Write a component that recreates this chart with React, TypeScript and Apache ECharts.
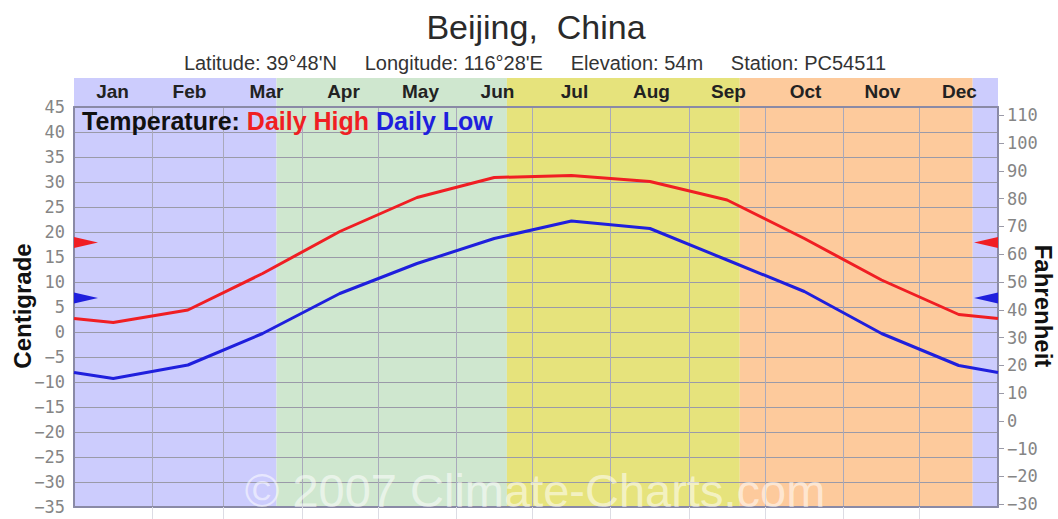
import React, { useEffect, useRef } from "react";
import * as echarts from "echarts";

// ---- data ----
const MONTHS = ["Jan", "Feb", "Mar", "Apr", "May", "Jun", "Jul", "Aug", "Sep", "Oct", "Nov", "Dec"];
// day-of-year positions: year start, mid-months, year end
const DAY_POS = [0, 15.5, 45, 74.5, 105, 135.5, 166, 196.5, 227.5, 258, 288.5, 319, 349.5, 365];
const DAILY_HIGH = [2.7, 1.9, 4.4, 11.7, 20.1, 26.9, 30.9, 31.3, 30.1, 26.4, 18.7, 10.4, 3.5, 2.7];
const DAILY_LOW = [-8.1, -9.3, -6.6, -0.3, 7.7, 13.7, 18.7, 22.2, 20.7, 14.4, 8.1, -0.3, -6.7, -8.1];
const MEAN_HIGH = 17.9;
const MEAN_LOW = 6.8;
const MONTH_BOUNDS = [31, 59, 90, 120, 151, 181, 212, 243, 273, 304, 334];
const SEASONS = [
  { from: 0, to: 80, color: "#ccccfd" },
  { from: 80, to: 171, color: "#cfe7cf" },
  { from: 171, to: 263, color: "#e6e37c" },
  { from: 263, to: 355, color: "#fdca9c" },
  { from: 355, to: 365, color: "#ccccfd" },
];
const F_TICKS = [-30, -20, -10, 0, 10, 20, 30, 40, 50, 60, 70, 80, 90, 100, 110];
const C_MIN = -35;
const C_MAX = 45;

const toF = (c: number) => c * 1.8 + 32;
const minus = (v: number | string) => String(v).replace("-", "\u2212");

export default function App() {
  const ref = useRef<HTMLDivElement>(null);
  useEffect(() => {
    if (!ref.current) return;
    const chart = echarts.init(ref.current, null, { renderer: "svg" });
    const frame = { onZero: false, lineStyle: { color: "#8a8aa6", width: 2 } };
    const bandArea = SEASONS.map((s) => [
      { xAxis: s.from, itemStyle: { color: s.color } },
      { xAxis: s.to },
    ]);
    const tri = (value: number, color: string) => [
      {
        coord: [0, value],
        symbol: "triangle",
        symbolRotate: -90,
        symbolSize: [11, 24],
        symbolOffset: [12, 0],
        itemStyle: { color },
      },
      {
        coord: [365, value],
        symbol: "triangle",
        symbolRotate: 90,
        symbolSize: [11, 24],
        symbolOffset: [-12, 0],
        itemStyle: { color },
      },
    ];
    const axisFont = {
      fontFamily: "DejaVu Sans Mono",
      fontSize: 17,
      color: "#858585",
      formatter: (v: number) => minus(v),
    };
    chart.setOption({
      animation: false,
      backgroundColor: "#ffffff",
      grid: [
        { left: 74, right: 60, top: 78, height: 29 },
        { left: 74, right: 60, top: 107, height: 400 },
      ],
      xAxis: [
        {
          gridIndex: 1,
          type: "value",
          min: 0,
          max: 365,
          position: "bottom",
          z: 3,
          axisLine: { show: true, ...frame },
          axisTick: {
            show: true,
            customValues: MONTH_BOUNDS,
            length: 12,
            lineStyle: { color: "#dcdce4", width: 1 },
          },
          axisLabel: { show: false },
          splitLine: { show: true, lineStyle: { color: "#a9a9bb", width: 1 } },
        },
        {
          gridIndex: 1,
          type: "category",
          position: "top",
          data: MONTHS,
          boundaryGap: true,
          z: 3,
          axisLine: { show: true, ...frame },
          axisTick: { show: false },
          splitLine: { show: false },
          axisLabel: {
            margin: 6,
            fontFamily: "Liberation Sans",
            fontWeight: "bold",
            fontSize: 19,
            color: "#222222",
          },
        },
        { gridIndex: 0, type: "value", min: 0, max: 365, show: false },
      ],
      yAxis: [
        {
          gridIndex: 1,
          type: "value",
          min: C_MIN,
          max: C_MAX,
          interval: 5,
          position: "left",
          z: 3,
          axisLine: { show: true, ...frame },
          axisTick: { show: false },
          axisLabel: { margin: 9, padding: [0, 0, 5, 0], ...axisFont },
          splitLine: { show: true, lineStyle: { color: "#9a9aa8", width: 1 } },
        },
        {
          gridIndex: 1,
          type: "value",
          min: toF(C_MIN),
          max: toF(C_MAX),
          position: "right",
          z: 3,
          axisLine: { show: true, ...frame },
          axisTick: {
            show: true,
            customValues: F_TICKS,
            length: 6,
            lineStyle: { color: "#9a9aa8" },
          },
          axisLabel: { customValues: F_TICKS, margin: 9, ...axisFont },
          splitLine: { show: false },
        },
        { gridIndex: 0, type: "value", min: 0, max: 1, show: false },
      ],
      series: [
        {
          type: "line",
          xAxisIndex: 2,
          yAxisIndex: 2,
          data: [],
          silent: true,
          z: 1,
          markArea: { silent: true, data: bandArea },
        },
        {
          type: "line",
          xAxisIndex: 0,
          yAxisIndex: 0,
          data: [],
          silent: true,
          z: 1,
          markArea: { silent: true, data: bandArea },
        },
        {
          name: "Daily High",
          type: "line",
          xAxisIndex: 0,
          yAxisIndex: 0,
          z: 5,
          symbol: "none",
          data: DAY_POS.map((d, i) => [d, DAILY_HIGH[i]]),
          lineStyle: { color: "#f01e23", width: 3 },
          itemStyle: { color: "#f01e23" },
          markPoint: { silent: true, label: { show: false }, data: tri(MEAN_HIGH, "#f01e23") },
        },
        {
          name: "Daily Low",
          type: "line",
          xAxisIndex: 0,
          yAxisIndex: 0,
          z: 5,
          symbol: "none",
          data: DAY_POS.map((d, i) => [d, DAILY_LOW[i]]),
          lineStyle: { color: "#1f1fdd", width: 3 },
          itemStyle: { color: "#1f1fdd" },
          markPoint: { silent: true, label: { show: false }, data: tri(MEAN_LOW, "#1f1fdd") },
        },
      ],
      graphic: [
        {
          type: "text",
          x: 536,
          y: 27,
          style: {
            text: "Beijing,  China",
            fontFamily: "Liberation Sans",
            fontSize: 34,
            fill: "#2a2a2a",
            textAlign: "center",
            textVerticalAlign: "middle",
          },
        },
        {
          type: "text",
          x: 535,
          y: 63,
          style: {
            text: "Latitude: 39°48'N     Longitude: 116°28'E     Elevation: 54m     Station: PC54511",
            fontFamily: "Liberation Sans",
            fontSize: 20,
            fill: "#333333",
            textAlign: "center",
            textVerticalAlign: "middle",
          },
        },
        {
          type: "text",
          x: 82,
          y: 121,
          z: 10,
          style: {
            text: "{t|Temperature: }{h|Daily High} {l|Daily Low}",
            fontFamily: "Liberation Sans",
            fontWeight: "bold",
            fontSize: 25,
            textVerticalAlign: "middle",
            rich: {
              t: { fill: "#111111", fontWeight: "bold", fontSize: 25, fontFamily: "Liberation Sans" },
              h: { fill: "#f01e23", fontWeight: "bold", fontSize: 25, fontFamily: "Liberation Sans" },
              l: { fill: "#1f1fdd", fontWeight: "bold", fontSize: 25, fontFamily: "Liberation Sans" },
            },
          },
        },
        {
          type: "text",
          x: 22,
          y: 306,
          rotation: Math.PI / 2,
          style: {
            text: "Centigrade",
            fontFamily: "Liberation Sans",
            fontWeight: "bold",
            fontSize: 24,
            fill: "#111111",
            textAlign: "center",
            textVerticalAlign: "middle",
          },
        },
        {
          type: "text",
          x: 1043,
          y: 306,
          rotation: -Math.PI / 2,
          style: {
            text: "Fahrenheit",
            fontFamily: "Liberation Sans",
            fontWeight: "bold",
            fontSize: 24,
            fill: "#111111",
            textAlign: "center",
            textVerticalAlign: "middle",
          },
        },
        {
          type: "text",
          x: 535,
          y: 490,
          z: 10,
          style: {
            text: "© 2007 Climate-Charts.com",
            fontFamily: "Liberation Sans",
            fontSize: 47,
            fill: "rgba(255,255,255,0.55)",
            textAlign: "center",
            textVerticalAlign: "middle",
          },
        },
      ],
    });
    return () => chart.dispose();
  }, []);
  return (
    <div
      ref={ref}
      style={{ position: "absolute", left: 0, top: 0, width: 1058, height: 519 }}
    />
  );
}
